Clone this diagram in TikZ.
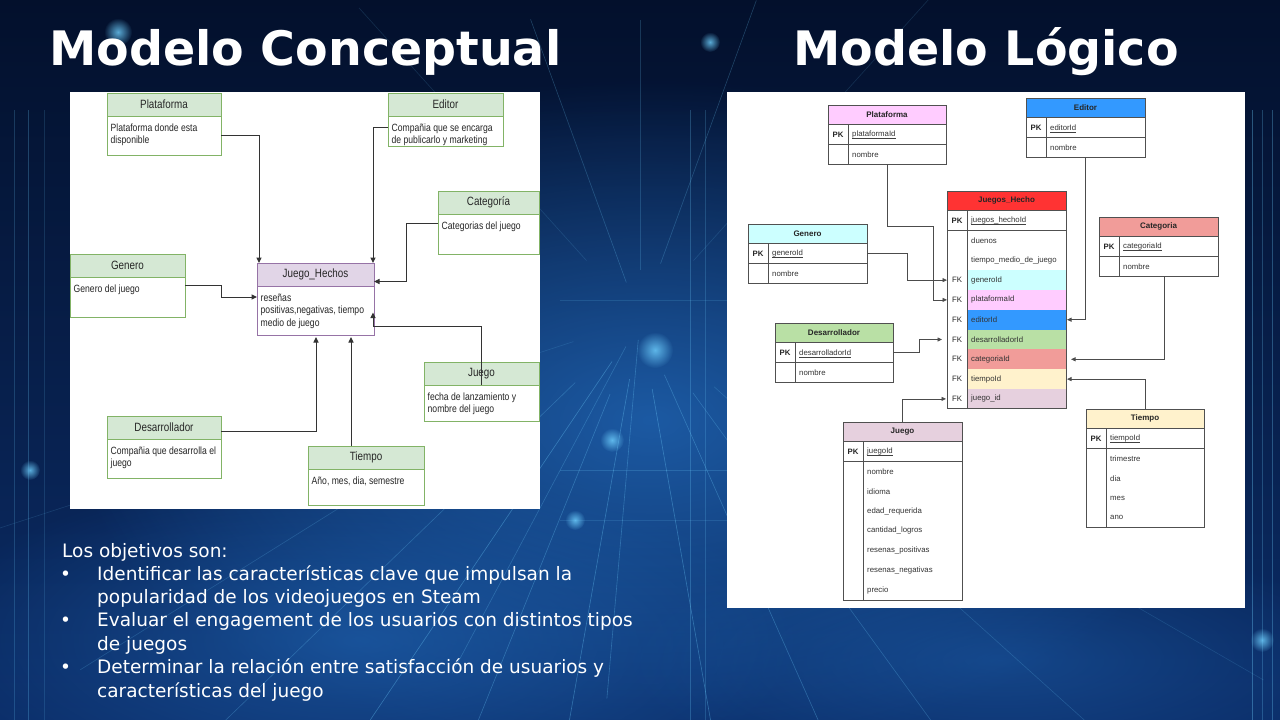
\documentclass[tikz,border=0pt]{standalone}
\usepackage{fontspec}
\setmainfont{DejaVu Sans}
\newfontfamily\diagfam[FakeStretch=0.82]{Liberation Sans}
\newfontfamily\erfam{Liberation Sans}
\usetikzlibrary{arrows.meta,calc,fadings}
\tikzfading[name=softglow, inner color=transparent!0, outer color=transparent!100]

% palette
\definecolor{bgdark}{HTML}{03102C}
\definecolor{bgmid}{HTML}{0B2D68}
\definecolor{bgglow}{HTML}{2168B8}
\definecolor{streak}{HTML}{6FD0FF}
\definecolor{cgreen}{HTML}{D5E8D4}
\definecolor{cgreenb}{HTML}{82B366}
\definecolor{cpurple}{HTML}{E1D5E7}
\definecolor{cpurpleb}{HTML}{9673A6}
\definecolor{erline}{HTML}{505050}
\definecolor{erpink}{HTML}{FFCCFF}
\definecolor{erblue}{HTML}{3399FF}
\definecolor{ercyan}{HTML}{CCFFFF}
\definecolor{erred}{HTML}{FF3333}
\definecolor{ersalmon}{HTML}{F19C99}
\definecolor{ergreen}{HTML}{B9E0A5}
\definecolor{ermauve}{HTML}{E6D0DE}
\definecolor{eryellow}{HTML}{FFF2CC}

% fonts
\newcommand\cheadfont{\diagfam\fontsize{12}{14}\selectfont}
\newcommand\cbodyfont{\diagfam\fontsize{10.5}{12.5}\selectfont}
\newcommand\erheadfont{\erfam\bfseries\fontsize{8}{9.5}\selectfont}
\newcommand\erkeyfont{\erfam\bfseries\fontsize{7.8}{9.5}\selectfont}
\newcommand\erfieldfont{\erfam\fontsize{7.8}{9.5}\selectfont}
\newcommand\objfont{\fontsize{18.5}{22}\selectfont}
\newcommand\ttlfont{\bfseries\fontsize{47.5}{52}\selectfont}

\newcommand\rowh{19.8pt}

% conceptual entity: name, x, y, width, body height, title, text, border, header fill
\newcommand\centity[9]{%
  \node[chead, draw=#8, fill=#9, minimum width=#4pt] (#1) at (#2,#3) {#6};
  \node[cbody, draw=#8, minimum width=#4pt, minimum height=#5pt] (#1b) at (#2,#3+23) {};
  \node[ctext] (#1t) at ([xshift=3.5pt,yshift=-7.5pt]#1b.north west) {#7};
}

% logical table header: name, x, y, width, fill, title
\newcommand\erhead[6]{%
  \node[erhd, fill=#5, minimum width=#4pt] (#1) at (#2,#3) {#6};
}
% primary key row: table, width, key field (underlined)
\newcommand\erpk[3]{%
  \node[erbox, draw=erline, line width=0.8pt, minimum width=#2pt] (#1-pk) at (#1.south west) {};
  \draw[erl] ([xshift=20pt]#1-pk.north west) -- ([xshift=20pt]#1-pk.south west);
  \node[erkey] (#1-pkk) at ([xshift=10pt]#1-pk.west) {PK};
  \node[erfld] (#1-pkf) at ([xshift=24pt]#1-pk.west) {#3};
  \draw[draw=black!75, line width=0.5pt] ([yshift=-1.3pt]#1-pkf.base west) -- ([yshift=-1.3pt]#1-pkf.base east);
}
% remaining rows: table, width, number of rows, key/field/fill list
\newcommand\erbody[4]{%
  \node[erbox, minimum width=#2pt, minimum height=#3*\rowh] (#1-b) at (#1-pk.south west) {};
  \foreach \k/\f/\c [count=\i] in {#4} {
    \fill[fill=\c] ([xshift=20pt,yshift={-(\i-1)*\rowh}]#1-b.north west) rectangle ([yshift={-\i*\rowh}]#1-b.north east);
    \coordinate (#1-r\i) at ([yshift={-(\i-0.5)*\rowh}]#1-b.north west);
    \coordinate (#1-e\i) at ([yshift={-(\i-0.5)*\rowh}]#1-b.north east);
    \node[erkey, font=\erfieldfont] (#1-k\i) at ([xshift=10pt]#1-r\i) {\k};
    \node[erfld] (#1-f\i) at ([xshift=24pt]#1-r\i) {\f};
  }
  \draw[erl] (#1-b.north west) rectangle (#1-b.south east);
  \draw[erl] ([xshift=20pt]#1-b.north west) -- ([xshift=20pt]#1-b.south west);
}

\begin{document}
\begin{tikzpicture}[x=1pt,y=-1pt,
  panel/.style={fill=white, anchor=north west, inner sep=0pt, outer sep=0pt},
  ttl/.style={anchor=base west, inner sep=0pt, text=white, font=\ttlfont},
  objt/.style={anchor=base west, inner sep=0pt, text=white, font=\objfont},
  chead/.style={line width=0.8pt, anchor=north west, minimum height=23pt, inner sep=0pt, outer sep=0pt, font=\cheadfont, text=black!85},
  cbody/.style={fill=white, line width=0.8pt, anchor=north west, inner sep=0pt, outer sep=0pt},
  ctext/.style={anchor=north west, inner sep=0pt, align=left, font=\cbodyfont, text=black!85},
  carr/.style={draw=black!80, line width=1pt, -{Triangle[length=5.5pt,width=5pt]}},
  erhd/.style={draw=erline, line width=0.8pt, anchor=north west, minimum height=\rowh, inner sep=0pt, outer sep=0pt, font=\erheadfont, text=black!85},
  erbox/.style={fill=white, anchor=north west, minimum height=\rowh, inner sep=0pt, outer sep=0pt},
  erl/.style={draw=erline, line width=0.8pt},
  erkey/.style={inner sep=0pt, font=\erkeyfont, text=black!85},
  erfld/.style={anchor=west, inner sep=0pt, font=\erfieldfont, text=black!80},
  erarr/.style={draw=black!70, line width=0.8pt, -{Triangle[length=4.5pt,width=4pt]}},
  sk/.style={draw=streak, line width=0.6pt}
]
\useasboundingbox (0,0) rectangle (1280,720);

% ---------- background ----------
\shade[top color=bgdark, bottom color=bgmid] (0,0) rectangle (1280,720);
\begin{scope}
  \clip (0,0) rectangle (1280,720);
  \fill[bgglow, path fading=softglow, fill opacity=0.8] (650,420) ellipse [x radius=580pt, y radius=340pt];
  \fill[bgglow, path fading=softglow, fill opacity=0.6] (360,640) ellipse [x radius=440pt, y radius=170pt];
  \fill[bgglow, path fading=softglow, fill opacity=0.45] (1000,660) ellipse [x radius=380pt, y radius=120pt];
  \coordinate (vp) at (640,320);
  \foreach \a/\ra/\rb/\op in {100/60/450/0.35, 112/80/520/0.3, 124/50/560/0.35, 136/90/620/0.25,
      148/120/660/0.2, 162/70/720/0.15, 80/70/430/0.35, 66/60/480/0.3, 54/90/600/0.25,
      42/100/660/0.2, 30/150/720/0.15, 250/40/320/0.25, 270/50/300/0.2, 290/60/340/0.25,
      228/80/420/0.15, 312/80/440/0.15, 95/20/380/0.3, 118/30/400/0.25}
    \draw[sk, opacity=\op] ($(vp)+(\a:\ra)$) -- ($(vp)+(\a:\rb)$);
  \foreach \x/\op in {1252/0.35, 1262/0.25, 1272/0.3, 14/0.2, 28/0.25, 44/0.15, 690/0.25, 705/0.2}
    \draw[sk, opacity=\op] (\x,110) -- (\x,720);
  \foreach \y/\op in {470/0.2, 520/0.15, 300/0.15}
    \draw[sk, opacity=\op] (560,\y) -- (727,\y);
  \foreach \x/\y/\r in {118/32/14, 710/42/10, 655/350/18, 612/440/12, 575/520/10, 1262/640/12, 30/470/10}
    \fill[streak, path fading=softglow, opacity=0.8] (\x,\y) circle [radius=\r pt];
\end{scope}

% ---------- titles ----------
\node[ttl] (title1) at (49,65) {Modelo Conceptual};
\node[ttl] (title2) at (793,65) {Modelo Lógico};

% ---------- panels ----------
\node[panel, minimum width=470pt, minimum height=417pt] (lpanel) at (70,92) {};
\node[panel, minimum width=518pt, minimum height=516pt] (rpanel) at (727,92) {};

% ---------- conceptual model ----------
\centity{plat}{107}{93}{114}{39}{Plataforma}{Plataforma donde esta\\disponible}{cgreenb}{cgreen}
\centity{edit}{388}{93}{115}{30}{Editor}{Compañia que se encarga\\de publicarlo y marketing}{cgreenb}{cgreen}
\centity{cat}{438}{191}{101}{40}{Categoría}{Categorias del juego}{cgreenb}{cgreen}
\centity{gen}{70}{254}{115}{40}{Genero}{Genero del juego}{cgreenb}{cgreen}
\centity{jh}{257}{263}{117}{49}{Juego\_Hechos}{reseñas\\positivas,negativas, tiempo\\medio de juego}{cpurpleb}{cpurple}
\centity{jg}{424}{362}{115}{36}{Juego}{fecha de lanzamiento y\\nombre del juego}{cgreenb}{cgreen}
\centity{des}{107}{416}{114}{39}{Desarrollador}{Compañia que desarrolla el\\juego}{cgreenb}{cgreen}
\centity{tie}{308}{446}{116}{36}{Tiempo}{Año, mes, dia, semestre}{cgreenb}{cgreen}

\draw[carr] (platb.east) -| ([xshift=2pt]jh.north west);
\draw[carr] ([yshift=4pt]editb.west) -| ([xshift=-1pt]jh.north east);
\draw[carr] ([yshift=11pt]catb.west) -- ++(-32,0) |- ([yshift=-7pt]jh.east);
\draw[carr] ([yshift=12pt]genb.east) -- ++(36,0) |- ([yshift=-11pt]jhb.north west);
\draw[carr] (jg.south) -- ++(0,-59) -| ([xshift=-1pt,yshift=-2pt]jhb.east);
\draw[carr] ([yshift=-4pt]des.east) -| ([xshift=59pt,yshift=-2pt]jhb.south west);
\coordinate (tieup) at ([xshift=-15pt]tie.north);
\coordinate (jhbot) at ([yshift=-2pt]jhb.south);
\draw[carr] (tieup) -- (tieup |- jhbot);

% ---------- logical model ----------
\erhead{lpl}{828}{105}{118}{erpink}{Plataforma}
\erpk{lpl}{118}{plataformaId}
\erbody{lpl}{118}{1}{/nombre/white}

\erhead{led}{1026}{98}{119}{erblue}{Editor}
\erpk{led}{119}{editorId}
\erbody{led}{119}{1}{/nombre/white}

\erhead{lge}{748}{224}{119}{ercyan}{Genero}
\erpk{lge}{119}{generoId}
\erbody{lge}{119}{1}{/nombre/white}

\erhead{ljh}{947}{191}{119}{erred}{Juegos\_Hecho}
\erpk{ljh}{119}{juegos\_hechoId}
\erbody{ljh}{119}{9}{/duenos/white,/tiempo\_medio\_de\_juego/white,FK/generoId/ercyan,FK/plataformaId/erpink,FK/editorId/erblue,FK/desarrolladorId/ergreen,FK/categoriaId/ersalmon,FK/tiempoId/eryellow,FK/juego\_id/ermauve}

\erhead{lca}{1099}{217}{119}{ersalmon}{Categoria}
\erpk{lca}{119}{categoriaId}
\erbody{lca}{119}{1}{/nombre/white}

\erhead{lde}{775}{323}{118}{ergreen}{Desarrollador}
\erpk{lde}{118}{desarrolladorId}
\erbody{lde}{118}{1}{/nombre/white}

\erhead{lju}{843}{422}{119}{ermauve}{Juego}
\erpk{lju}{119}{juegoId}
\erbody{lju}{119}{7}{/nombre/white,/idioma/white,/edad\_requerida/white,/cantidad\_logros/white,/resenas\_positivas/white,/resenas\_negativas/white,/precio/white}

\erhead{lti}{1086}{409}{118}{eryellow}{Tiempo}
\erpk{lti}{118}{tiempoId}
\erbody{lti}{118}{4}{/trimestre/white,/dia/white,/mes/white,/ano/white}

\draw[erarr] (lpl-b.south) -- ++(0,62) -| ([xshift=-14pt]ljh-r4) -- (ljh-r4);
\draw[erarr] (lge-pk.east) -| ([xshift=-40pt]ljh-r3) -- (ljh-r3);
\draw[erarr] (led-b.south) |- ([xshift=1pt]ljh-e5);
\draw[erarr] ([xshift=6pt]lca-b.south) |- ([xshift=5pt]ljh-e7);
\draw[erarr] (lti.north) |- ([xshift=1pt]ljh-e8);
\draw[erarr] (lde-pk.east) -- ++(26,0) |- ([xshift=-5pt]ljh-r6);
\draw[erarr] (lju.north) |- ([xshift=-1pt]ljh-r9);

% ---------- objectives ----------
\node[objt] (obj0) at (62,557) {Los objetivos son:};
\node[objt] (bul1) at (60,580) {•};
\node[objt] (obj1) at (97,580) {Identificar las características clave que impulsan la};
\node[objt] (obj1b) at (97,603.4) {popularidad de los videojuegos en Steam};
\node[objt] (bul2) at (60,626.8) {•};
\node[objt] (obj2) at (97,626.8) {Evaluar el engagement de los usuarios con distintos tipos};
\node[objt] (obj2b) at (97,650.2) {de juegos};
\node[objt] (bul3) at (60,673.6) {•};
\node[objt] (obj3) at (97,673.6) {Determinar la relación entre satisfacción de usuarios y};
\node[objt] (obj3b) at (97,697) {características del juego};
\end{tikzpicture}
\end{document}
